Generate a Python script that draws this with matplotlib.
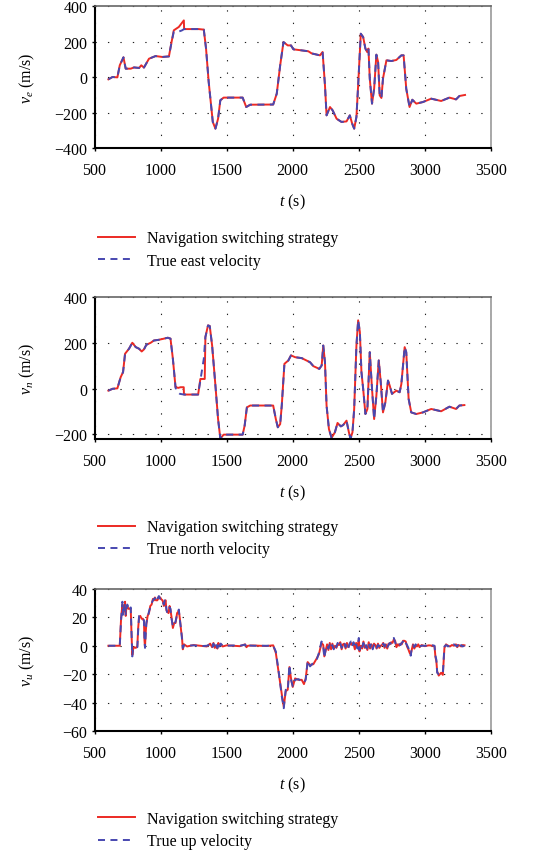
import matplotlib.pyplot as plt

plt.rcParams['font.family'] = ['Liberation Serif', 'DejaVu Serif']
plt.rcParams['mathtext.fontset'] = 'custom'
plt.rcParams['mathtext.rm'] = 'Liberation Serif'
plt.rcParams['mathtext.it'] = 'Liberation Serif:italic'

# ---- east velocity ----
ve_true_t = [605, 636, 673, 691, 719, 736, 774, 799, 837, 854, 874, 912, 962, 1013, 1063, 1083,
             1100, 1125, 1160, 1178, 1289, 1327, 1344, 1364, 1395, 1415, 1435, 1452, 1477, 1621,
             1648, 1678, 1852, 1879, 1905, 1930, 1962, 1987, 2005, 2068, 2118, 2143, 2206, 2226,
             2244, 2256, 2282, 2302, 2332, 2369, 2407, 2432, 2450, 2465, 2482, 2495, 2515, 2533,
             2550, 2563, 2573, 2583, 2600, 2616, 2633, 2646, 2658, 2671, 2683, 2709, 2746, 2784,
             2822, 2839, 2859, 2884, 2905, 2935, 2985, 3048, 3123, 3186, 3236, 3261, 3304]
ve_true = [-13, 0, -2, 66, 111, 47, 47, 54, 51, 66, 53, 103, 118, 113, 116, 197,
           255, 253, 262, 270, 270, 267, 160, -28, -253, -291, -235, -131, -116, -116,
           -169, -156, -155, -94, 66, 197, 178, 178, 156, 150, 145, 133, 122, 141,
           -47, -216, -169, -188, -235, -253, -250, -216, -263, -291, -225, -47, 244, 225,
           160, 141, 160, -9, -150, -66, 126, 85, -103, -118, -9, 94, 90, 96,
           122, 122, -66, -169, -128, -150, -141, -122, -135, -116, -126, -107, -101]
ve_nav_t = [605, 636, 673, 691, 719, 736, 774, 799, 837, 854, 874, 912, 962, 1013, 1063, 1083,
            1100, 1138, 1176, 1178, 1289, 1327, 1344, 1364, 1395, 1415, 1435, 1452, 1477, 1621,
            1648, 1678, 1852, 1879, 1905, 1930, 1962, 1987, 2005, 2068, 2118, 2143, 2206, 2226,
            2244, 2256, 2282, 2302, 2332, 2369, 2407, 2432, 2450, 2465, 2482, 2495, 2515, 2533,
            2550, 2563, 2573, 2583, 2600, 2616, 2633, 2646, 2658, 2671, 2683, 2709, 2746, 2784,
            2822, 2839, 2859, 2884, 2905, 2935, 2985, 3048, 3123, 3186, 3236, 3261, 3304]
ve_nav = [-13, 0, -2, 66, 111, 47, 47, 54, 51, 66, 53, 103, 118, 113, 116, 197,
          263, 282, 319, 270, 270, 267, 160, -28, -253, -291, -235, -131, -116, -116,
          -169, -156, -155, -94, 66, 197, 178, 178, 156, 150, 145, 133, 122, 141,
          -47, -216, -169, -188, -235, -253, -250, -216, -263, -291, -225, -47, 244, 225,
          160, 141, 160, -9, -150, -66, 126, 85, -103, -118, -9, 94, 90, 96,
          122, 122, -66, -169, -128, -150, -141, -122, -135, -116, -126, -107, -101]

# ---- north velocity ----
vn_true_t = [605, 636, 673, 698, 716, 731, 761, 786, 812, 837, 857, 874, 892, 925, 950, 987,
             1025, 1055, 1075, 1093, 1113, 1118, 1146, 1177, 1284, 1327, 1339, 1359, 1372, 1390,
             1415, 1435, 1452, 1477, 1621, 1636, 1653, 1678, 1852, 1872, 1887, 1905, 1917, 1937,
             1967, 1987, 2018, 2068, 2131, 2156, 2201, 2219, 2231, 2244, 2256, 2274, 2294, 2319,
             2339, 2364, 2382, 2407, 2425, 2437, 2452, 2465, 2482, 2495, 2508, 2520, 2533, 2550,
             2565, 2583, 2600, 2616, 2633, 2651, 2666, 2683, 2701, 2721, 2734, 2751, 2784, 2809,
             2822, 2847, 2859, 2877, 2897, 2935, 2985, 3048, 3123, 3186, 3236, 3261, 3299]
vn_true = [-9, -1, 1, 50, 72, 152, 174, 200, 181, 174, 162, 171, 191, 200, 210, 213,
           218, 222, 218, 130, 6, -9, -23, -26, -26, 130, 225, 276, 273, 188,
           13, -133, -218, -201, -201, -162, -82, -74, -74, -133, -169, -155, -74, 108,
           123, 145, 137, 133, 115, 98, 86, 101, 188, 115, -74, -177, -215, -191,
           -150, -165, -159, -140, -191, -218, -191, -89, 188, 298, 247, 72, -1, -111,
           -89, 159, -1, -133, -31, 123, 28, -104, -60, 35, 13, -23, -9, -16,
           20, 181, 159, -45, -104, -111, -104, -89, -99, -79, -89, -74, -72]
vn_nav_t = [605, 636, 673, 698, 716, 731, 761, 786, 812, 837, 857, 874, 892, 925, 950, 987,
            1025, 1055, 1075, 1093, 1113, 1118, 1133, 1151, 1175, 1177, 1284, 1301, 1334, 1339,
            1359, 1372, 1390, 1415, 1435, 1452, 1477, 1621, 1636, 1653, 1678, 1852, 1872, 1887,
            1905, 1917, 1937, 1967, 1987, 2018, 2068, 2131, 2156, 2201, 2219, 2231, 2244, 2256,
            2274, 2294, 2319, 2339, 2364, 2382, 2407, 2425, 2437, 2452, 2465, 2482, 2495, 2508,
            2520, 2533, 2550, 2565, 2583, 2600, 2616, 2633, 2651, 2666, 2683, 2701, 2721, 2734,
            2751, 2784, 2809, 2822, 2847, 2859, 2877, 2897, 2935, 2985, 3048, 3123, 3186, 3236,
            3261, 3299]
vn_nav = [-9, -1, 1, 50, 72, 152, 174, 200, 181, 174, 162, 171, 191, 200, 210, 213,
          218, 222, 218, 130, 6, 6, 3, 6, 6, -26, -26, 42, 42, 225,
          276, 273, 188, 13, -133, -218, -201, -201, -162, -82, -74, -74, -133, -169,
          -155, -74, 108, 123, 145, 137, 133, 115, 98, 86, 101, 188, 115, -74,
          -177, -215, -191, -150, -165, -159, -140, -191, -218, -191, -89, 188, 298, 247,
          72, -1, -111, -89, 159, -1, -133, -31, 123, 28, -104, -60, 35, 13,
          -23, -9, -16, 20, 181, 159, -45, -104, -111, -104, -89, -99, -79, -89,
          -74, -72]

# ---- up velocity ----
vu_t = [605, 650, 691, 701, 711, 716, 724, 731, 736, 741, 748, 756, 763, 774, 780, 786,
        792, 799, 812, 824, 830, 837, 846, 857, 866, 874, 878, 882, 887, 892, 902, 912,
        922, 932, 942, 950, 957, 965, 975, 987, 997, 1007, 1015, 1025, 1032, 1038, 1044, 1050,
        1060, 1068, 1075, 1083, 1093, 1103, 1113, 1125, 1138, 1146, 1156, 1162, 1168, 1178,
        1200, 1250, 1300, 1350, 1375, 1390, 1400, 1410, 1420, 1430, 1437, 1445, 1455, 1470,
        1500, 1550, 1600, 1640, 1650, 1660, 1700, 1800, 1852, 1872, 1892, 1917, 1932, 1947,
        1962, 1975, 1987, 2000, 2018, 2043, 2068, 2085, 2098, 2113, 2131, 2156, 2181, 2198,
        2218, 2231, 2239, 2251, 2260, 2270, 2280, 2290, 2300, 2310, 2320, 2330, 2340, 2350,
        2360, 2370, 2380, 2390, 2400, 2410, 2420, 2430, 2440, 2450, 2460, 2470, 2480, 2490,
        2500, 2505, 2515, 2525, 2535, 2545, 2555, 2565, 2575, 2585, 2595, 2605, 2615, 2625,
        2635, 2645, 2655, 2665, 2675, 2685, 2695, 2705, 2715, 2725, 2735, 2745, 2755, 2765,
        2775, 2785, 2795, 2805, 2815, 2825, 2835, 2845, 2855, 2865, 2875, 2885, 2893, 2900,
        2910, 2920, 2930, 2940, 2950, 2960, 2975, 3000, 3030, 3060, 3073, 3080, 3087, 3093,
        3105, 3123, 3136, 3148, 3160, 3175, 3190, 3205, 3220, 3235, 3245, 3255, 3265, 3275,
        3285, 3300]
vu_true = [0, 0, 0, 18, 31, 21, 27, 30, 22, 26, 29, 27, 25, 27, 10, -7.5,
           -2, -1.5, -1, -1, 10, 21, 20, 19.5, 18.5, 18, 5, -1.5, 8, 16, 20, 24,
           27, 30, 32, 33, 33.5, 31, 33, 35, 33, 33.5, 31, 29, 32, 31, 26, 23,
           24, 27, 26, 19, 13.5, 15, 17, 22, 25.5, 18, 11, 5, -1.6, 0.5,
           0, 0.3, -0.3, 0, 1, -1.5, 1.5, -2, 0.5, -1.5, 2.5, -0.5, 1.5, 0,
           0, 0.2, 0, 0.8, -1.2, 0.3, 0, 0, 0, -4, -17, -35.5, -44, -31,
           -32, -13.5, -24, -28.5, -24, -23.5, -25, -26, -24, -10.5, -14.5, -12, -10, -5,
           3, -0.5, -8.5, -1.5, 0.5, -2, 1, -1.5, 0.5, -2.5, 1, -1, 2, -0.5,
           1.5, -1.5, 0, 2.5, -1, 1, -2, 1.5, 3, -0.5, 2.5, -1.5, 1, -2,
           5.5, -3, 1, -1, 2, -2.5, 0.5, -2, 1.5, -1, 2, -2.5, 0.5, 1.5,
           -1.5, 0.5, -0.5, 1, -0.5, 1.5, -0.5, 2, -1, 0.5, 2, 1.5, 3, 5.5,
           2.5, -0.5, 0, 1, 0.5, 2, 3, 4.5, 2, 0.5, -1.5, -4, -7, -2,
           0.5, -1, 1, -1, 0, -0.5, 0, 0, 0, 0.3, 0, -7, -10, -19,
           -20, -20, -19.5, -0.5, 0.5, -0.5, 0.5, -0.5, 1, 0, -0.5, 1.5, -1, 0.5,
           -0.5, 0]
vu_nav = [0, 0, 0, 19, 29, 23, 26, 31, 21, 27, 28, 26, 26, 26, 8, -6.5,
          -2.5, -1, -1.5, -0.5, 12, 20, 21, 19, 19, 17.5, 4, -1, 9, 15, 21, 23,
          28, 29, 33, 32, 34, 32, 32, 34, 34, 32.5, 32, 28, 31, 32, 25, 24,
          23, 28, 25, 20, 12.5, 16, 16, 23, 24.5, 19, 10, 6, -2.5, 1,
          -0.5, 0.5, 0, -0.5, 1.5, -1, 2, -1.5, 0, -2, 2, 0, 1, -0.5,
          0.3, 0, -0.3, 1, -1, 0, 0.2, -0.2, 0.3, -5, -18, -34, -43, -32,
          -31, -15, -23, -29, -23, -24, -24, -27, -23, -11.5, -13.5, -13, -9, -6,
          2, 0.5, -7.5, -2.5, 1, -3, 2, -2.5, 1.5, -2, 0, -1.5, 1, 0.5,
          2.5, -2.5, 1, 1.5, -2, 2, -1, 0.5, 2, 0.5, 1.5, -2.5, 2, -1,
          4, -4, 0, -2, 3, -1.5, -0.5, -3, 2.5, -2, 1, -1.5, 1.5, 0.5,
          -2, 1.5, -1.5, 0, 0.5, 2, -1.5, 1, -2, 1.5, 1, 2.5, 2, 4.5,
          3.5, -1, 1, 0, 1.5, 1, 3.5, 3.5, 3, -0.5, -2.5, -5, -6, -3,
          1, -2, 0, -0.5, 1, -1, 0.5, -0.3, 0.3, 0, -0.5, -8, -11, -18,
          -21, -19, -20.5, -1.5, 1, 0, -0.5, 0.5, 0, 1, -1, 0.5, 0, -0.5,
          0.5, 0.3]

panels = [
    (ve_nav_t, ve_nav, ve_true_t, ve_true, (-400, 400), [-400, -200, 0, 200, 400],
     r'$v_e$ (m/s)', 'True east velocity', 0.8255, 0.7066),
    (vn_nav_t, vn_nav, vn_true_t, vn_true, (-220, 400), [-200, 0, 200, 400],
     r'$v_n$ (m/s)', 'True north velocity', 0.4848, 0.3685),
    (vu_t, vu_nav, vu_t, vu_true, (-60, 40), [-60, -40, -20, 0, 20, 40],
     r'$v_u$ (m/s)', 'True up velocity', 0.1429, 0.0270),
]

red = '#ec2a24'
blue = '#4848b0'

fig = plt.figure(figsize=(5.56, 8.54), dpi=100)

for nav_t, nav, tr_t, tr, ylim, yticks, ylabel, true_name, bottom, leg_y in panels:
    ax = fig.add_axes([0.170, bottom, 0.713, 0.1663])
    l1, = ax.plot(nav_t, nav, color=red, lw=1.4, label='Navigation switching strategy')
    l2, = ax.plot(tr_t, tr, color=blue, lw=1.4, dashes=(3.6, 2.8), label=true_name)

    ax.set_xlim(500, 3500)
    ax.set_ylim(*ylim)
    ax.set_xticks([500, 1000, 1500, 2000, 2500, 3000, 3500])
    ax.set_yticks(yticks)
    ax.tick_params(direction='out', length=2.2, width=1, labelsize=11.5)
    ax.tick_params(axis='x', pad=8)
    ax.tick_params(axis='y', pad=3)
    ax.grid(True, color='#222222', lw=0.8, linestyle=(0, (1.2, 10)))

    ax.spines['left'].set_linewidth(1.5)
    ax.spines['bottom'].set_linewidth(1.5)
    ax.spines['top'].set_color('#666666')
    ax.spines['top'].set_linewidth(1.2)
    ax.spines['right'].set_color('#999999')
    ax.spines['right'].set_linewidth(1.2)

    ax.set_xlabel(r'$t$ (s)', fontsize=11.5, labelpad=10)
    ax.set_ylabel(ylabel, fontsize=11.5)
    ax.yaxis.set_label_coords(-0.145, 0.5)

    fig.legend(handles=[l1, l2], loc='center left', bbox_to_anchor=(0.176, leg_y),
               frameon=False, fontsize=11.5, handlelength=2.3, handletextpad=0.8,
               labelspacing=0.4, borderpad=0, borderaxespad=0)

fig.savefig('out.png', dpi=100)
